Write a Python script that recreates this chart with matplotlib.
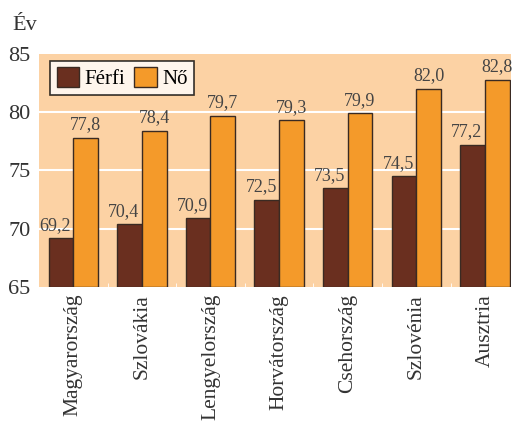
import numpy as np
import matplotlib
matplotlib.use("Agg")
import matplotlib.pyplot as plt

# Data
countries = ["Magyarország", "Szlovákia", "Lengyelország", "Horvátország",
             "Csehország", "Szlovénia", "Ausztria"]
ferfi = [69.2, 70.4, 70.9, 72.5, 73.5, 74.5, 77.2]
no = [77.8, 78.4, 79.7, 79.3, 79.9, 82.0, 82.8]

plt.rcParams['font.family'] = ['Liberation Serif', 'DejaVu Serif']

fig = plt.figure(figsize=(5.15, 4.24), dpi=100)
ax = fig.add_axes([0.0757, 0.323, 0.9163, 0.550])
ax.set_facecolor("#FCD2A4")

x = np.arange(len(countries))
w = 0.36
ax.bar(x - w / 2, np.array(ferfi) - 65, w, bottom=65, color="#6A2F1F",
       edgecolor="#3a2a22", linewidth=1, label="Férfi", zorder=3)
ax.bar(x + w / 2, np.array(no) - 65, w, bottom=65, color="#F49A2A",
       edgecolor="#3a2a22", linewidth=1, label="Nő", zorder=3)

# value labels with decimal comma
for xi, v in zip(x, ferfi):
    ax.annotate(f"{v:.1f}".replace(".", ","), (xi - w / 2, v), xytext=(-4, 6),
                textcoords="offset points", ha="center", va="baseline",
                fontsize=13, color="#444444")
for xi, v in zip(x, no):
    ax.annotate(f"{v:.1f}".replace(".", ","), (xi + w / 2, v), xytext=(0, 6),
                textcoords="offset points", ha="center", va="baseline",
                fontsize=13, color="#444444")

ax.set_ylim(65, 85)
ax.set_xlim(-0.5, 6.38)
ax.set_yticks([65, 70, 75, 80, 85])
ax.tick_params(axis="y", length=0, labelsize=16, pad=6, colors="#333333")
ax.set_xticks(x)
ax.set_xticklabels(countries, rotation=90, fontsize=15.5, color="#333333")
ax.tick_params(axis="x", length=0, pad=5)
ax.set_xticks(x[:-1] + 0.5, minor=True)
ax.tick_params(axis="x", which="minor", length=3, direction="in", color="white")

for yv in [70, 75, 80]:
    ax.axhline(yv, color="white", linewidth=1.5, zorder=1)
for s in ax.spines.values():
    s.set_visible(False)

leg = ax.legend(loc="upper left", bbox_to_anchor=(0.024, 0.97), ncol=2,
                fontsize=15, frameon=True, fancybox=False, edgecolor="black",
                handlelength=1.1, handleheight=1.1, handletextpad=0.25,
                columnspacing=0.4, borderpad=0.3, borderaxespad=0)
leg.get_frame().set_linewidth(1.2)

fig.text(12 / 515, 1 - 30 / 424, "Év", fontsize=16, color="#333333")

fig.savefig("out.png", dpi=100)
